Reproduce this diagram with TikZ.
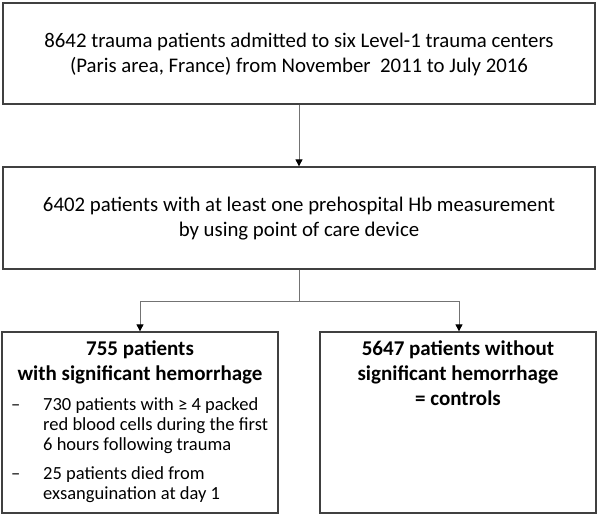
\documentclass[tikz,border=0pt]{standalone}
\usepackage{fontspec}
\setmainfont{Carlito}
\usetikzlibrary{arrows.meta}
\begin{document}
\begin{tikzpicture}[x=1pt,y=-1pt,
  box/.style={draw=black!75, line width=1.3pt, inner sep=0pt},
  conn/.style={draw=black!55, line width=0.9pt},
  arr/.style={conn, -{Triangle[length=7pt,width=7pt,fill=black,color=black]}},
  bigtxt/.style={font=\fontsize{20.8}{25}\selectfont, align=center, inner sep=0pt},
  headtxt/.style={font=\bfseries\fontsize{21}{25}\selectfont, align=center, inner sep=0pt},
  listtxt/.style={font=\fontsize{18.5}{20}\selectfont, inner sep=0pt, anchor=north west}]
\useasboundingbox (0,0) rectangle (598,517);

\node[box, minimum width=592pt, minimum height=101pt] (top) at (299,53.5) {};
\node[bigtxt] (toptxt) at (299,54) {8642 trauma patients admitted to six Level-1 trauma centers\\(Paris area, France) from November~ 2011 to July 2016};

\node[box, minimum width=592pt, minimum height=102pt] (mid) at (299,218) {};
\node[bigtxt] (midtxt) at (299,219) {6402 patients with at least one prehospital Hb measurement\\by using point of care device};

\node[box, minimum width=276pt, minimum height=181pt] (left) at (140,422.5) {};
\node[box, minimum width=276pt, minimum height=181pt] (right) at (458,422.5) {};

\node[headtxt] (lhead) at (140,362) {755 patients\\with significant hemorrhage};
\node[headtxt] (rhead) at (458,373) {5647 patients without\\significant hemorrhage\\= controls};

\node[listtxt] (list) at (10,396) {%
  \begin{tabular}{@{}p{33pt}@{}l@{}}
  \hspace{1pt}–& 730 patients with ≥ 4 packed\\
   & red blood cells during the first\\
   & 6 hours following trauma\\[9pt]
  \hspace{1pt}–& 25 patients died from\\
   & exsanguination at day 1
  \end{tabular}};

\coordinate (split) at (299,301);
\coordinate (lc) at (140,301);
\coordinate (rc) at (459,301);

\draw[arr] (top.south) -- (mid.north);
\draw[conn] (mid.south) -- (split);
\draw[conn] (lc) -- (rc);
\draw[arr] (lc) -- (left.north);
\draw[arr] (rc) -- (rc |- right.north);
\end{tikzpicture}
\end{document}
